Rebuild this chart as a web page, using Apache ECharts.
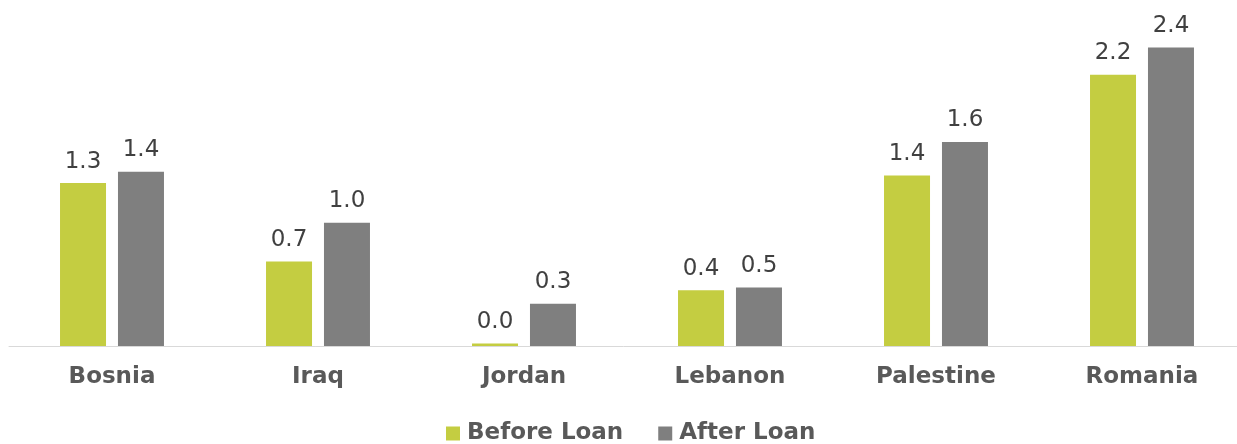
<!DOCTYPE html>
<html>
<head>
<meta charset="utf-8">
<script src="https://cdn.jsdelivr.net/npm/echarts@6/dist/echarts.min.js"></script>
<style>html,body{margin:0;padding:0;background:#fff;}#c{width:1237px;height:444px;}</style>
</head>
<body>
<div id="c"></div>
<script>
const categories = ['Bosnia', 'Iraq', 'Jordan', 'Lebanon', 'Palestine', 'Romania'];
const beforeLoan = [1.31, 0.68, 0.02, 0.449, 1.37, 2.18];
const afterLoan = [1.40, 0.99, 0.34, 0.47, 1.64, 2.40];
const seriesNames = ['Before Loan', 'After Loan'];

const chart = echarts.init(document.getElementById('c'));
const labelCfg = {
  show: true, position: 'top', distance: 10,
  fontFamily: 'DejaVu Sans', fontSize: 23, color: '#404040',
  formatter: p => p.value.toFixed(1)
};
chart.setOption({
  animation: false,
  grid: { left: 9, width: 1236, top: 35, height: 311, containLabel: false, outerBoundsMode: 'none' },
  legend: {
    data: seriesNames, left: 441, top: 417, itemWidth: 14, itemHeight: 14, itemGap: 35,
    icon: 'rect',
    textStyle: { fontFamily: 'DejaVu Sans', fontWeight: 'bold', fontSize: 23, color: '#595959', padding: [0, 0, 0, 2] }
  },
  xAxis: {
    type: 'category', data: categories,
    axisLine: { lineStyle: { color: '#d9d9d9', width: 1 } },
    axisTick: { show: false },
    axisLabel: { margin: 20, fontFamily: 'DejaVu Sans', fontWeight: 'bold', fontSize: 23, color: '#595959' }
  },
  yAxis: { type: 'value', min: 0, max: 2.5, show: false, splitLine: { show: false } },
  series: [
    { name: seriesNames[0], type: 'bar', data: beforeLoan, barWidth: 46, barGap: '26%',
      itemStyle: { color: '#C4CD41' }, label: labelCfg },
    { name: seriesNames[1], type: 'bar', data: afterLoan, barWidth: 46,
      itemStyle: { color: '#7F7F7F' }, label: labelCfg }
  ]
});
</script>
</body>
</html>
